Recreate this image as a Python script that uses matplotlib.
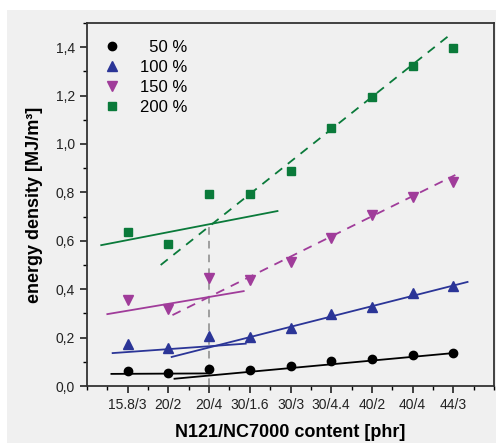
import matplotlib
matplotlib.use("Agg")
import matplotlib.pyplot as plt
from matplotlib.patches import Rectangle
from matplotlib.ticker import MultipleLocator, FuncFormatter

plt.rcParams['font.family'] = ['Liberation Sans', 'DejaVu Sans']

# x categories (filler content N121/NC7000 in phr)
categories = ["15.8/3", "20/2", "20/4", "30/1.6", "30/3", "30/4.4", "40/2", "40/4", "44/3"]

# energy density at the different strains [MJ/m3]
strain_50 = [0.062, 0.054, 0.070, 0.066, 0.083, 0.103, 0.110, 0.127, 0.136]
strain_100 = [0.173, 0.157, 0.207, 0.203, 0.240, 0.297, 0.326, 0.384, 0.413]
strain_150 = [0.355, 0.318, 0.446, 0.440, 0.512, 0.610, 0.706, 0.781, 0.843]
strain_200 = [0.636, 0.587, 0.793, 0.793, 0.888, 1.066, 1.194, 1.322, 1.396]

# linear fits: (x start, x end, y start, y end) in category index / data units
fit_50_low = [-0.4, 2.0, 0.050, 0.052]
fit_50_high = [1.15, 8.0, 0.030, 0.136]
fit_100_low = [-0.37, 2.9, 0.136, 0.175]
fit_100_high = [1.08, 8.35, 0.120, 0.430]
fit_150_low = [-0.5, 2.85, 0.297, 0.392]
fit_150_high = [1.1, 8.05, 0.293, 0.872]
fit_200_low = [-0.65, 3.68, 0.582, 0.723]
fit_200_high = [0.81, 7.88, 0.500, 1.446]

labels = ["  50 %", "100 %", "150 %", "200 %"]
colors = ["black", "#2b3597", "#a03c9a", "#0a7a3a"]
markers = ["o", "^", "v", "s"]
msizes = [6, 7, 7, 5.5]
dashed = [False, False, True, True]

fig = plt.figure(figsize=(4.96, 4.43), dpi=100)
fig.patches.append(Rectangle((7 / 496, 0), 1, 1 - 10 / 443, transform=fig.transFigure,
                             facecolor="#f0f0f0", edgecolor="none", zorder=-10))
ax = fig.add_axes([87 / 496, 57 / 443, 407 / 496, 363 / 443])
ax.set_facecolor("#f0f0f0")

xs = list(range(len(categories)))
series = [strain_50, strain_100, strain_150, strain_200]
fits = [(fit_50_low, fit_50_high), (fit_100_low, fit_100_high),
        (fit_150_low, fit_150_high), (fit_200_low, fit_200_high)]

for vals, lab, c, m, ms, (lo, hi), d in zip(series, labels, colors, markers, msizes, fits, dashed):
    ax.plot(xs, vals, linestyle="none", marker=m, markersize=ms, color=c, label=lab, zorder=3)
    ax.plot(lo[:2], lo[2:], color=c, lw=1.3, zorder=2)
    ls = (0, (5, 4)) if d else "-"
    ax.plot(hi[:2], hi[2:], color=c, lw=1.3, linestyle=ls, zorder=2)

# marker line at 20/4
ax.plot([2, 2], [0, 0.66], color="#888888", lw=1.1, linestyle=(0, (5, 4)), zorder=1)

ax.set_xlim(-1, 9)
ax.set_ylim(0, 1.5)
ax.set_xticks(xs)
ax.set_xticklabels(categories)
ax.xaxis.set_minor_locator(MultipleLocator(0.5))
ax.yaxis.set_major_locator(MultipleLocator(0.2))
ax.yaxis.set_minor_locator(MultipleLocator(0.1))
ax.yaxis.set_major_formatter(FuncFormatter(lambda v, p: f"{v:.1f}".replace(".", ",")))

ax.tick_params(which="major", direction="out", length=5, width=1.2, labelsize=10, colors="#222222")
ax.tick_params(which="minor", direction="out", length=3, width=1.0)
for s in ax.spines.values():
    s.set_linewidth(1.3)
    s.set_color("#333333")

ax.set_xlabel("N121/NC7000 content [phr]", fontsize=13, fontweight="bold", labelpad=9)
ax.set_ylabel("energy density [MJ/m\u00b3]", fontsize=13, fontweight="bold", labelpad=9)

ax.legend(loc="upper left", frameon=False, fontsize=12, handletextpad=1.2,
          labelspacing=0.3, borderaxespad=0.6, handlelength=1.0)

fig.savefig("out.png", dpi=100, facecolor="white")
